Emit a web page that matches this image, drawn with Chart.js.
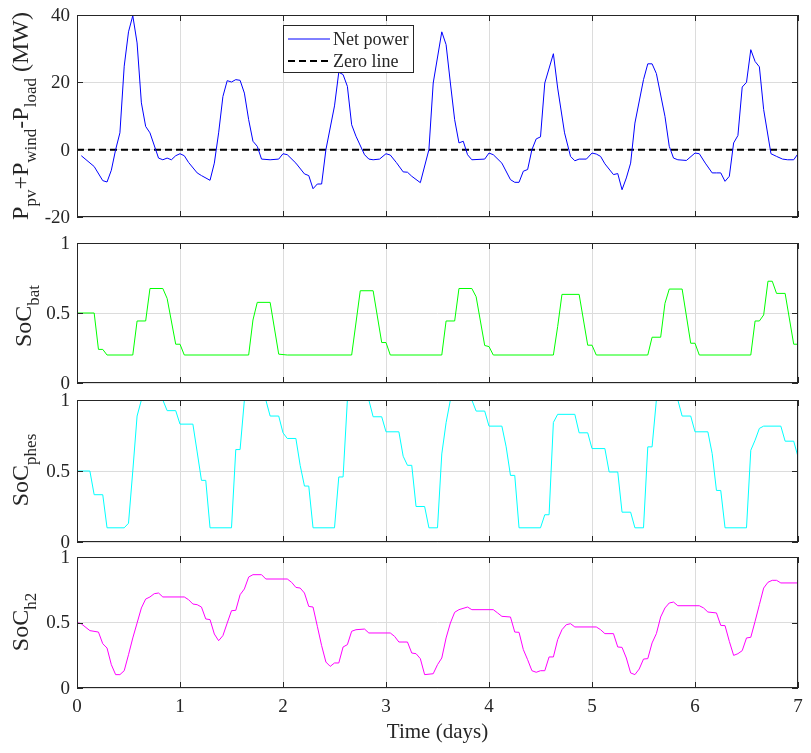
<!DOCTYPE html>
<html lang="en">
<head>
    <meta charset="UTF-8">
    <title>Net power and storage state of charge</title>
    <script src="https://cdn.jsdelivr.net/npm/chart.js"></script>
    <style>
        body {
            margin: 0;
            padding: 0;
            background-color: #ffffff;
        }
        #figure {
            position: relative;
            width: 811px;
            height: 753px;
            overflow: hidden;
        }
        #figure canvas {
            position: absolute;
            left: 0;
        }
    </style>
</head>
<body>
    <div id="figure">
        <canvas id="netChart"></canvas>
        <canvas id="batChart"></canvas>
        <canvas id="phesChart"></canvas>
        <canvas id="h2Chart"></canvas>
    </div>

    <script>
        // Net power P_pv + P_wind - P_load (MW), read at these hours
        const netHours = [1, 4, 6, 7, 8, 9, 10, 11, 12, 13, 14, 15, 16, 17, 19, 20, 21, 22, 23, 24,
            25, 26, 28, 29, 31, 32, 33, 34, 35, 36, 37, 38, 39, 40, 41, 42, 43, 45, 47, 48,
            49, 51, 53, 54, 55, 56, 57, 58, 60, 61, 62, 63, 64, 65, 67, 68, 69, 70.5, 72, 73,
            74.4, 76, 77, 78, 80, 82, 83, 85, 86, 87, 88, 89, 90, 91, 92, 95, 96, 97, 99, 101,
            102, 103, 104, 105, 106, 107, 108, 109, 111, 112, 113.6, 115, 116, 117, 118.7, 120, 121, 122, 123, 125,
            126, 127, 128, 129, 130, 132, 133, 134, 135, 137, 138, 139, 140, 142, 144, 145, 146.4, 148, 149, 150,
            151, 152, 153, 154, 155, 156, 157, 158, 159, 160, 161.7, 163, 164.4, 165.6, 167, 168];
        const netMW = [-1.8, -5, -9.2, -9.6, -6.1, 0, 5, 24.8, 35, 39.8, 31.7, 13.9, 6.9, 5, -2.5, -3, -2.5, -3, -1.8, -1.2,
            -1.8, -3.8, -6.9, -7.7, -9.1, -4, 5, 15.8, 20.5, 20.1, 20.8, 20.6, 16.8, 8.9, 2.5, 1, -2.8, -3, -2.8, -1.2,
            -1.5, -4, -7.2, -7.7, -11.6, -10.2, -10.2, 0, 13, 23, 22.3, 18.8, 7.4, 4, -1.5, -2.8, -3, -2.8, -1.2, -1.6,
            -3.8, -6.6, -6.7, -7.9, -9.8, 0, 19.8, 35, 31.2, 19.8, 8.9, 2, 2.5, -1.5, -3, -2.8, -1, -1.5, -4, -8.9,
            -9.7, -9.7, -6.4, -5.9, 0, 3.2, 3.8, 19.8, 28.5, 18.3, 5, -2, -3.3, -2.8, -2.8, -1, -1.3, -2, -4.2, -7.4,
            -7.1, -11.9, -8.4, -4, 7.9, 20.8, 25.5, 25.5, 22.6, 9.9, 1, -2.5, -3, -3.2, -1, -1.2, -4, -6.9, -6.9, -6.9,
            -9.4, -7.9, 2, 4.2, 18.6, 20, 29.7, 26.2, 24.6, 11.9, -1.2, -2, -2.8, -3, -3, -1.2];

        const zeroHours = [0, 168];
        const zeroMW = [0, 0];

        // Battery state of charge
        const batHours = [0, 4, 5, 6, 7, 13, 14, 16, 17, 20, 21, 23, 24, 25, 40, 41, 42, 45, 47, 49,
            64, 66, 69, 71, 72, 73, 85, 86, 88, 89, 92, 93, 95, 96, 97, 111, 112, 113, 117, 119,
            120, 121, 133, 134, 136, 137, 138, 141, 143, 144, 145, 157, 158, 159, 160, 161, 162, 163, 165, 167, 168];
        const batSoc = [0.5, 0.5, 0.24, 0.24, 0.2, 0.2, 0.443, 0.443, 0.675, 0.675, 0.604, 0.277, 0.277, 0.2, 0.2, 0.45, 0.576, 0.576, 0.206, 0.2,
            0.2, 0.659, 0.659, 0.289, 0.289, 0.2, 0.2, 0.443, 0.443, 0.675, 0.675, 0.616, 0.268, 0.26, 0.2, 0.2, 0.403, 0.633, 0.633, 0.27,
            0.27, 0.2, 0.2, 0.327, 0.327, 0.569, 0.671, 0.671, 0.284, 0.284, 0.2, 0.2, 0.443, 0.443, 0.486, 0.727, 0.727, 0.64, 0.64, 0.277, 0.277];

        // Pumped hydro state of charge
        const phesHours = [0, 3, 4, 6, 7, 11, 12, 13, 14, 15, 20, 21, 23, 24, 27, 28, 29, 30, 31, 36,
            37, 38, 39, 44, 45, 47, 48, 49, 51, 52, 53, 54, 55, 60, 61, 62, 63, 68, 69, 71,
            72, 75, 76, 77, 78, 79, 81, 82, 84, 85, 86, 87, 92, 93, 95, 96, 99, 100, 101, 102,
            103, 108, 109, 110, 111, 112, 116, 117, 119, 120, 123, 124, 126, 127, 129, 130, 132, 133, 134, 135,
            140, 141, 143, 144, 147, 148, 149, 150, 151, 156, 157, 158, 159, 160, 164, 165, 167, 168];
        const phesSoc = [0.5, 0.5, 0.333, 0.333, 0.1, 0.1, 0.132, 0.5, 0.887, 1, 1, 0.925, 0.925, 0.83, 0.83, 0.634, 0.434, 0.434, 0.1, 0.1,
            0.651, 0.651, 1, 1, 0.887, 0.887, 0.769, 0.729, 0.729, 0.54, 0.394, 0.394, 0.1, 0.1, 0.458, 0.458, 1, 1, 0.882, 0.882,
            0.776, 0.776, 0.604, 0.54, 0.54, 0.25, 0.25, 0.1, 0.1, 0.62, 0.84, 1, 1, 0.922, 0.922, 0.816, 0.816, 0.67, 0.469, 0.469,
            0.1, 0.1, 0.192, 0.192, 0.842, 0.899, 0.899, 0.769, 0.769, 0.658, 0.658, 0.493, 0.493, 0.21, 0.21, 0.1, 0.1, 0.67, 0.67, 1,
            1, 0.887, 0.887, 0.776, 0.776, 0.623, 0.363, 0.363, 0.1, 0.1, 0.646, 0.717, 0.8, 0.816, 0.816, 0.71, 0.71, 0.6];

        // Hydrogen storage state of charge
        const h2Hours = [0, 1, 3, 5, 6, 7, 8, 9, 10, 11, 12, 13, 14, 15, 16, 17, 18, 19, 20, 25,
            26, 27, 28, 29, 30, 31, 32, 33, 34, 35, 36, 37, 38, 39, 40, 41, 43, 44, 49, 50,
            51, 52, 53, 54, 55, 56, 57, 58, 59, 60, 61, 62, 63, 64, 65, 67, 68, 73, 74, 75,
            77, 78, 79, 80, 81, 83, 84, 85, 86, 87, 88, 89, 91, 92, 97, 98, 99, 101, 102, 103,
            104, 105, 106, 107, 108, 109, 110, 111, 112, 113, 114, 115, 116, 121, 122, 123, 125, 126, 127, 128,
            129, 130, 131, 132, 133, 134, 135, 136, 137, 138, 139, 140, 145, 146, 147, 149, 150, 151, 152, 153,
            154, 155, 156, 157, 158, 159, 160, 161, 162, 163, 164, 168];
        const h2Soc = [0.5, 0.49, 0.438, 0.427, 0.338, 0.305, 0.178, 0.102, 0.102, 0.132, 0.254, 0.382, 0.496, 0.611, 0.679, 0.695, 0.72, 0.725, 0.695, 0.695,
            0.674, 0.641, 0.636, 0.618, 0.527, 0.522, 0.412, 0.361, 0.4, 0.496, 0.59, 0.593, 0.712, 0.756, 0.847, 0.865, 0.865, 0.832, 0.832, 0.807,
            0.768, 0.763, 0.725, 0.623, 0.618, 0.471, 0.323, 0.198, 0.165, 0.191, 0.191, 0.313, 0.331, 0.433, 0.445, 0.45, 0.42, 0.42, 0.394, 0.351,
            0.351, 0.267, 0.262, 0.224, 0.102, 0.109, 0.178, 0.229, 0.382, 0.496, 0.578, 0.598, 0.618, 0.598, 0.598, 0.573, 0.547, 0.542, 0.427, 0.425,
            0.293, 0.216, 0.132, 0.12, 0.132, 0.132, 0.237, 0.237, 0.369, 0.445, 0.483, 0.491, 0.466, 0.466, 0.445, 0.415, 0.415, 0.313, 0.31, 0.229,
            0.115, 0.102, 0.145, 0.221, 0.224, 0.344, 0.415, 0.542, 0.611, 0.649, 0.656, 0.628, 0.628, 0.611, 0.58, 0.573, 0.478, 0.476, 0.356, 0.249,
            0.262, 0.285, 0.382, 0.387, 0.509, 0.636, 0.763, 0.807, 0.822, 0.822, 0.802, 0.802];

        const dayTicks = [0, 1, 2, 3, 4, 5, 6, 7];

        const FONT = "'Liberation Serif', 'Times New Roman', serif";
        const AXIS = '#262626';
        const GRID = '#dcdcdc';
        const LEFT = 77, RIGHT = 798;

        // hours -> days for the x axis
        function points(hours, values) {
            return hours.map((h, i) => ({ x: h / 24, y: values[i] }));
        }

        // let tick labels hang outside the plot box instead of shrinking it
        function noScalePadding(s) {
            s.paddingTop = 0;
            s.paddingBottom = 0;
            s.paddingLeft = 0;
            s.paddingRight = 0;
        }

        // Box around the axes with inward tick marks on all four sides (MATLAB look)
        const boxPlugin = {
            id: 'matlabBox',
            afterDatasetsDraw(chart) {
                const { ctx, chartArea: a, scales: { x, y } } = chart;
                const tl = 6;
                ctx.save();
                ctx.strokeStyle = AXIS;
                ctx.lineWidth = 1;
                ctx.beginPath();
                x.ticks.forEach(t => {
                    const px = Math.round(x.getPixelForValue(t.value)) + 0.5;
                    ctx.moveTo(px, a.top); ctx.lineTo(px, a.top + tl);
                    ctx.moveTo(px, a.bottom); ctx.lineTo(px, a.bottom - tl);
                });
                y.ticks.forEach(t => {
                    const py = Math.round(y.getPixelForValue(t.value)) + 0.5;
                    ctx.moveTo(a.left, py); ctx.lineTo(a.left + tl, py);
                    ctx.moveTo(a.right, py); ctx.lineTo(a.right - tl, py);
                });
                ctx.stroke();
                ctx.strokeRect(a.left + 0.5, a.top + 0.5, a.right - a.left - 1, a.bottom - a.top - 1);
                ctx.restore();
            }
        };

        // Rotated y label with subscripts, plus optional x label
        const labelPlugin = {
            id: 'axisLabels',
            afterDraw(chart, args, o) {
                const ctx = chart.ctx;
                if (o.yParts) {
                    ctx.save();
                    ctx.fillStyle = AXIS;
                    ctx.textAlign = 'left';
                    ctx.textBaseline = 'alphabetic';
                    const main = '24px ' + FONT, sub = '17px ' + FONT;
                    let w = 0;
                    const widths = o.yParts.map(p => {
                        ctx.font = p.sub ? sub : main;
                        const pw = ctx.measureText(p.t).width;
                        w += pw;
                        return pw;
                    });
                    ctx.translate(o.yX, o.yCenter);
                    ctx.rotate(-Math.PI / 2);
                    let cx = -w / 2;
                    o.yParts.forEach((p, i) => {
                        ctx.font = p.sub ? sub : main;
                        ctx.fillText(p.t, cx, p.sub ? 8 : 0);
                        cx += widths[i];
                    });
                    ctx.restore();
                }
                if (o.xTitle) {
                    ctx.save();
                    ctx.fillStyle = AXIS;
                    ctx.font = '21px ' + FONT;
                    ctx.textAlign = 'center';
                    ctx.textBaseline = 'alphabetic';
                    const a = chart.chartArea;
                    ctx.fillText(o.xTitle, (a.left + a.right) / 2, o.xBaseline);
                    ctx.restore();
                }
            }
        };

        // Legend box inside the first panel
        const legendPlugin = {
            id: 'boxLegend',
            afterDraw(chart, args, o) {
                if (!o.box) return;
                const ctx = chart.ctx;
                const [bx, by, bw, bh] = o.box;
                ctx.save();
                ctx.fillStyle = '#ffffff';
                ctx.fillRect(bx, by, bw, bh);
                ctx.strokeStyle = AXIS;
                ctx.lineWidth = 1;
                ctx.strokeRect(bx + 0.5, by + 0.5, bw, bh);
                ctx.font = '18px ' + FONT;
                ctx.textBaseline = 'middle';
                chart.data.datasets.forEach((ds, i) => {
                    const ly = by + 14 + i * 22;
                    ctx.beginPath();
                    ctx.strokeStyle = ds.borderColor;
                    ctx.lineWidth = ds.borderWidth;
                    ctx.setLineDash(ds.borderDash || []);
                    ctx.moveTo(bx + 5, ly);
                    ctx.lineTo(bx + 47, ly);
                    ctx.stroke();
                    ctx.setLineDash([]);
                    ctx.fillStyle = AXIS;
                    ctx.fillText(ds.label, bx + 50, ly + 1);
                });
                ctx.restore();
            }
        };

        function makePanel(id, plotTop, plotBottom, yMin, yMax, yStep, datasets, extra) {
            const isBottom = !!extra.xTitle;
            const canvasTop = plotTop - 12;
            const canvasHeight = isBottom ? 753 - canvasTop : plotBottom - plotTop + 24;
            const canvas = document.getElementById(id);
            canvas.width = 811;
            canvas.height = canvasHeight;
            canvas.style.top = canvasTop + 'px';
            canvas.style.width = '811px';
            canvas.style.height = canvasHeight + 'px';

            const xHeight = isBottom ? 753 - plotBottom : 0;

            return new Chart(canvas.getContext('2d'), {
                type: 'line',
                data: { datasets: datasets },
                options: {
                    responsive: false,
                    animation: false,
                    events: [],
                    layout: {
                        padding: { top: 12, bottom: isBottom ? 0 : 12, left: 0, right: 811 - RIGHT }
                    },
                    scales: {
                        x: {
                            type: 'linear',
                            min: 0,
                            max: 7,
                            afterBuildTicks: s => { s.ticks = dayTicks.map(v => ({ value: v })); },
                            afterFit: s => { s.height = xHeight; noScalePadding(s); },
                            grid: { color: GRID, lineWidth: 1, drawTicks: false },
                            border: { display: false },
                            ticks: {
                                display: isBottom,
                                color: AXIS,
                                padding: 8,
                                maxRotation: 0,
                                font: { family: FONT, size: 19 }
                            }
                        },
                        y: {
                            min: yMin,
                            max: yMax,
                            afterFit: s => { s.width = LEFT; noScalePadding(s); },
                            grid: { color: GRID, lineWidth: 1, drawTicks: false },
                            border: { display: false },
                            ticks: {
                                stepSize: yStep,
                                color: AXIS,
                                padding: 7,
                                labelOffset: 1,
                                font: { family: FONT, size: 19 },
                                callback: v => String(v)
                            }
                        }
                    },
                    plugins: {
                        legend: { display: false },
                        tooltip: { enabled: false },
                        axisLabels: {
                            yParts: extra.yParts,
                            yX: extra.yX,
                            yCenter: extra.yCenter - canvasTop,
                            xTitle: extra.xTitle,
                            xBaseline: 737.5 - canvasTop
                        },
                        boxLegend: { box: extra.legendBox ? [extra.legendBox[0], extra.legendBox[1] - canvasTop, extra.legendBox[2], extra.legendBox[3]] : null }
                    },
                    elements: { point: { radius: 0 }, line: { tension: 0 } }
                },
                plugins: [boxPlugin, labelPlugin, legendPlugin]
            });
        }

        function lineSet(label, hours, values, color, width, dash) {
            return {
                label: label,
                data: points(hours, values),
                borderColor: color,
                borderWidth: width,
                borderDash: dash,
                fill: false,
                pointRadius: 0
            };
        }

        makePanel('netChart', 15, 217, -20, 40, 20, [
            lineSet('Net power', netHours, netMW, '#0000ff', 1),
            lineSet('Zero line', zeroHours, zeroMW, '#000000', 2, [7, 4])
        ], {
            yParts: [{ t: 'P' }, { t: 'pv', sub: true }, { t: '+P' }, { t: 'wind', sub: true }, { t: '-P' }, { t: 'load', sub: true }, { t: ' (MW)' }],
            yX: 28, yCenter: 116,
            legendBox: [283, 25, 130, 47]
        });

        makePanel('batChart', 243, 383, 0, 1, 0.5, [
            lineSet('SoC bat', batHours, batSoc, '#00ff00', 1)
        ], {
            yParts: [{ t: 'SoC' }, { t: 'bat', sub: true }],
            yX: 31, yCenter: 316
        });

        makePanel('phesChart', 400, 542, 0, 1, 0.5, [
            lineSet('SoC phes', phesHours, phesSoc, '#00ffff', 1)
        ], {
            yParts: [{ t: 'SoC' }, { t: 'phes', sub: true }],
            yX: 28, yCenter: 470
        });

        makePanel('h2Chart', 557, 688, 0, 1, 0.5, [
            lineSet('SoC h2', h2Hours, h2Soc, '#ff00ff', 1)
        ], {
            yParts: [{ t: 'SoC' }, { t: 'h2', sub: true }],
            yX: 28, yCenter: 622,
            xTitle: 'Time (days)'
        });
    </script>
</body>
</html>
